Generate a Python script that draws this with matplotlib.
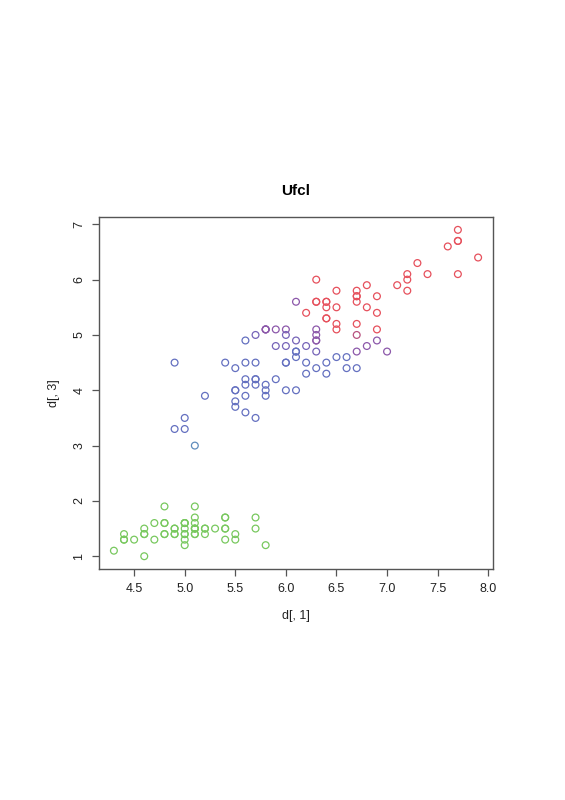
import matplotlib
matplotlib.use("Agg")
import matplotlib.pyplot as plt

plt.rcParams['font.family'] = ['Liberation Sans', 'DejaVu Sans']

# d[, 1] (sepal length) and d[, 3] (petal length), with fuzzy cluster colour class
x_setosa = [5.1, 4.9, 4.7, 4.6, 5.0, 5.4, 4.6, 5.0, 4.4, 4.9, 5.4, 4.8, 4.8, 4.3, 5.8, 5.7, 5.4,
            5.1, 5.7, 5.1, 5.4, 5.1, 4.6, 5.1, 4.8, 5.0, 5.0, 5.2, 5.2, 4.7, 4.8, 5.4, 5.2, 5.5,
            4.9, 5.0, 5.5, 4.9, 4.4, 5.1, 5.0, 4.5, 4.4, 5.0, 5.1, 4.8, 5.1, 4.6, 5.3, 5.0]
y_setosa = [1.4, 1.4, 1.3, 1.5, 1.4, 1.7, 1.4, 1.5, 1.4, 1.5, 1.5, 1.6, 1.4, 1.1, 1.2, 1.5, 1.3,
            1.4, 1.7, 1.5, 1.7, 1.5, 1.0, 1.7, 1.9, 1.6, 1.6, 1.5, 1.4, 1.6, 1.6, 1.5, 1.5, 1.4,
            1.5, 1.2, 1.3, 1.4, 1.3, 1.5, 1.3, 1.3, 1.3, 1.6, 1.9, 1.4, 1.6, 1.4, 1.5, 1.4]

x_versi = [7.0, 6.4, 6.9, 5.5, 6.5, 5.7, 6.3, 4.9, 6.6, 5.2, 5.0, 5.9, 6.0, 6.1, 5.6, 6.7, 5.6,
           5.8, 6.2, 5.6, 5.9, 6.1, 6.3, 6.1, 6.4, 6.6, 6.8, 6.7, 6.0, 5.7, 5.5, 5.5, 5.8, 6.0,
           5.4, 6.0, 6.7, 6.3, 5.6, 5.5, 5.5, 6.1, 5.8, 5.0, 5.6, 5.7, 5.7, 6.2, 5.1, 5.7]
y_versi = [4.7, 4.5, 4.9, 4.0, 4.6, 4.5, 4.7, 3.3, 4.6, 3.9, 3.5, 4.2, 4.0, 4.7, 3.6, 4.4, 4.5,
           4.1, 4.5, 3.9, 4.8, 4.0, 4.9, 4.7, 4.3, 4.4, 4.8, 5.0, 4.5, 3.5, 3.8, 3.7, 3.9, 5.1,
           4.5, 4.5, 4.7, 4.4, 4.1, 4.0, 4.4, 4.6, 4.0, 3.3, 4.2, 4.2, 4.2, 4.3, 3.0, 4.1]
c_versi = ['p', 'b', 'p', 'b', 'b', 'b', 'bp', 'b', 'b', 'b', 'b', 'b', 'b', 'b', 'b', 'b', 'b',
           'b', 'b', 'b', 'bp', 'b', 'p', 'b', 'b', 'b', 'p', 'rp', 'b', 'b', 'b', 'b', 'b', 'p',
           'b', 'b', 'p', 'b', 'b', 'b', 'b', 'b', 'b', 'b', 'b', 'b', 'b', 'b', 'bg', 'b']

x_virg = [6.3, 5.8, 7.1, 6.3, 6.5, 7.6, 4.9, 7.3, 6.7, 7.2, 6.5, 6.4, 6.8, 5.7, 5.8, 6.4, 6.5,
          7.7, 7.7, 6.0, 6.9, 5.6, 7.7, 6.3, 6.7, 7.2, 6.2, 6.1, 6.4, 7.2, 7.4, 7.9, 6.4, 6.3,
          6.1, 7.7, 6.3, 6.4, 6.0, 6.9, 6.7, 6.9, 5.8, 6.8, 6.7, 6.7, 6.3, 6.5, 6.2, 5.9]
y_virg = [6.0, 5.1, 5.9, 5.6, 5.8, 6.6, 4.5, 6.3, 5.8, 6.1, 5.1, 5.3, 5.5, 5.0, 5.1, 5.3, 5.5,
          6.7, 6.9, 5.0, 5.7, 4.9, 6.7, 4.9, 5.7, 6.0, 4.8, 4.9, 5.6, 5.8, 6.1, 6.4, 5.6, 5.1,
          5.6, 6.1, 5.6, 5.5, 4.8, 5.4, 5.6, 5.1, 5.1, 5.9, 5.7, 5.2, 5.0, 5.2, 5.4, 5.1]
c_virg = ['r', 'p', 'r', 'r', 'r', 'r', 'b', 'r', 'r', 'r', 'r', 'r', 'r', 'bp', 'p', 'r', 'r',
          'r', 'r', 'bp', 'r', 'b', 'r', 'p', 'r', 'r', 'bp', 'bp', 'r', 'r', 'r', 'r', 'r', 'p',
          'p', 'r', 'r', 'r', 'bp', 'r', 'r', 'r', 'p', 'r', 'r', 'r', 'p', 'r', 'r', 'p']

palette = {'g': '#78c85e', 'b': '#6470c0', 'bp': '#7664b8', 'p': '#8c58aa',
           'rp': '#b8527f', 'r': '#e6505c', 'bg': '#5f8cbc'}

xs = x_setosa + x_versi + x_virg
ys = y_setosa + y_versi + y_virg
cs = [palette['g']] * len(x_setosa) + [palette[k] for k in c_versi + c_virg]

fig = plt.figure(figsize=(5.65, 8.0), dpi=100)
ax = fig.add_axes([0.1758, 0.2884, 0.872 - 0.1758, 0.729 - 0.2884])

ax.scatter(xs, ys, s=24, facecolors='none', edgecolors=cs, linewidths=0.9)

ax.set_xlim(4.156, 8.044)
ax.set_ylim(0.764, 7.136)
ax.set_xticks([4.5, 5.0, 5.5, 6.0, 6.5, 7.0, 7.5, 8.0])
ax.set_xticklabels(['4.5', '5.0', '5.5', '6.0', '6.5', '7.0', '7.5', '8.0'])
ax.set_yticks([1, 2, 3, 4, 5, 6, 7])
ax.set_yticklabels(['1', '2', '3', '4', '5', '6', '7'], rotation=90, va='center')

for sp in ax.spines.values():
    sp.set_color('#555555')
    sp.set_linewidth(1.0)
ax.tick_params(length=5, width=0.9, color='#555555', labelsize=9, labelcolor='#222222', pad=5)

ax.set_xlabel("d[, 1]", fontsize=9, color='#222222', labelpad=11)
ax.set_ylabel("d[, 3]", fontsize=9, color='#222222', labelpad=10)
ax.set_title("Ufcl", fontsize=11, fontweight='bold', pad=16)

plt.savefig("out.png", dpi=100)
plt.close()
